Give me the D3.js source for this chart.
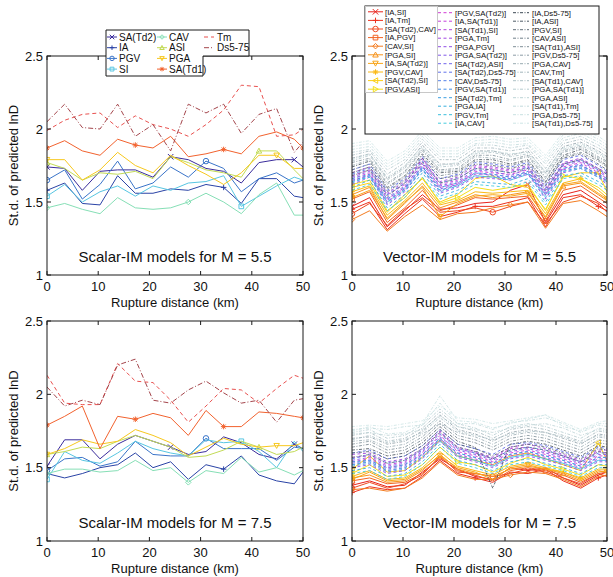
<!DOCTYPE html>
<html>
<head>
<meta charset="utf-8">
<script src="https://cdn.jsdelivr.net/npm/d3@7"></script>
<style>
  body { margin: 0; background: #fff; }
  svg { font-family: "Liberation Sans", Arial, sans-serif; }
</style>
</head>
<body>
<svg id="chart" width="613" height="577"></svg>
<script>
// distances (km) of the computed points
const distance = [0, 3.45, 6.9, 10.35, 13.8, 17.25, 20.7, 24.15, 27.6, 31.05, 34.5, 37.95, 41.4, 44.85, 48.3, 50];
const xTicks = [0, 10, 20, 30, 40, 50];
const yTicks = [1, 1.5, 2, 2.5];

// scalar IM models
const scalarNames = ['SA(Td2)', 'IA', 'PGV', 'SI', 'CAV', 'ASI', 'PGA', 'SA(Td1)', 'Tm', 'Ds5-75'];
const scalarM55 = [
  [1.74, 1.73, 1.58, 1.71, 1.72, 1.72, 1.67, 1.81, 1.79, 1.73, 1.71, 1.63, 1.77, 1.79, 1.79, 1.74],
  [1.58, 1.63, 1.49, 1.48, 1.68, 1.56, 1.56, 1.59, 1.58, 1.62, 1.60, 1.49, 1.66, 1.66, 1.54, 1.53],
  [1.65, 1.72, 1.52, 1.62, 1.78, 1.59, 1.63, 1.74, 1.67, 1.78, 1.73, 1.57, 1.66, 1.70, 1.63, 1.65],
  [1.54, 1.62, 1.50, 1.57, 1.61, 1.54, 1.61, 1.58, 1.63, 1.64, 1.68, 1.47, 1.54, 1.61, 1.67, 1.65],
  [1.46, 1.49, 1.45, 1.42, 1.53, 1.46, 1.45, 1.46, 1.50, 1.56, 1.50, 1.42, 1.55, 1.63, 1.41, 1.41],
  [1.77, 1.73, 1.65, 1.70, 1.69, 1.71, 1.66, 1.81, 1.77, 1.72, 1.70, 1.67, 1.85, 1.85, 1.72, 1.66],
  [1.79, 1.79, 1.65, 1.72, 1.84, 1.75, 1.70, 1.82, 1.75, 1.69, 1.62, 1.70, 1.82, 1.82, 1.73, 1.73],
  [1.87, 1.92, 1.85, 1.82, 1.93, 1.89, 1.87, 1.95, 1.81, 1.83, 1.86, 1.83, 1.95, 1.98, 1.93, 1.87],
  [1.99, 2.06, 2.10, 2.11, 2.01, 2.09, 2.03, 2.00, 1.95, 2.03, 2.13, 2.30, 2.29, 1.95, 1.96, 2.00],
  [2.05, 2.17, 2.01, 2.00, 2.17, 1.95, 2.03, 1.85, 2.17, 2.11, 2.17, 1.97, 2.10, 2.14, 1.84, 1.91]
];
const scalarM75 = [
  [1.51, 1.69, 1.69, 1.56, 1.66, 1.72, 1.68, 1.64, 1.59, 1.61, 1.71, 1.67, 1.59, 1.56, 1.66, 1.63],
  [1.46, 1.43, 1.46, 1.50, 1.52, 1.60, 1.50, 1.54, 1.42, 1.52, 1.49, 1.58, 1.45, 1.41, 1.39, 1.47],
  [1.48, 1.56, 1.57, 1.51, 1.54, 1.68, 1.59, 1.58, 1.58, 1.70, 1.63, 1.63, 1.63, 1.55, 1.64, 1.63],
  [1.42, 1.61, 1.55, 1.53, 1.60, 1.68, 1.63, 1.60, 1.58, 1.69, 1.67, 1.68, 1.61, 1.50, 1.68, 1.61],
  [1.46, 1.49, 1.49, 1.47, 1.48, 1.55, 1.48, 1.50, 1.40, 1.48, 1.46, 1.57, 1.47, 1.50, 1.45, 1.48],
  [1.59, 1.61, 1.64, 1.63, 1.68, 1.72, 1.68, 1.64, 1.57, 1.58, 1.62, 1.68, 1.64, 1.59, 1.61, 1.64],
  [1.59, 1.63, 1.69, 1.66, 1.68, 1.76, 1.72, 1.67, 1.58, 1.64, 1.70, 1.66, 1.64, 1.65, 1.65, 1.67],
  [1.79, 1.85, 1.92, 1.63, 1.85, 1.83, 1.87, 1.84, 1.72, 1.89, 1.78, 1.78, 1.88, 1.87, 1.85, 1.84],
  [2.13, 1.94, 1.93, 1.93, 2.21, 2.09, 2.08, 1.96, 1.81, 1.92, 2.04, 2.03, 1.94, 2.04, 2.13, 2.11],
  [2.05, 1.92, 1.96, 1.93, 2.20, 2.24, 1.96, 1.94, 2.03, 2.09, 2.01, 1.94, 1.96, 1.81, 1.96, 1.97]
];

// vector IM models (pairs)
const vectorNames = [
  '[IA,SI]', '[IA,Tm]', '[SA(Td2),CAV]', '[IA,PGV]', '[CAV,SI]', '[PGA,SI]', '[IA,SA(Td2)]', '[PGV,CAV]', '[SA(Td2),SI]', '[PGV,ASI]',
  '[PGV,SA(Td2)]', '[IA,SA(Td1)]', '[SA(Td1),SI]', '[PGA,Tm]', '[PGA,PGV]', '[PGA,SA(Td2)]', '[SA(Td2),ASI]', '[SA(Td2),Ds5-75]', '[CAV,Ds5-75]', '[PGV,SA(Td1)]', '[SA(Td2),Tm]', '[PGA,IA]', '[PGV,Tm]', '[IA,CAV]',
  '[IA,Ds5-75]', '[IA,ASI]', '[PGV,SI]', '[CAV,ASI]', '[SA(Td1),ASI]', '[PGV,Ds5-75]', '[PGA,CAV]', '[CAV,Tm]', '[SA(Td1),CAV]', '[PGA,SA(Td1)]', '[PGA,ASI]', '[SA(Td1),Tm]', '[PGA,Ds5-75]', '[SA(Td1),Ds5-75]'
];
const vectorM55 = [
  [1.47, 1.53, 1.33, 1.44, 1.55, 1.45, 1.46, 1.49, 1.50, 1.58, 1.62, 1.36, 1.55, 1.58, 1.50, 1.46],
  [1.45, 1.50, 1.31, 1.42, 1.52, 1.40, 1.43, 1.47, 1.47, 1.50, 1.53, 1.33, 1.53, 1.55, 1.47, 1.44],
  [1.42, 1.49, 1.34, 1.45, 1.53, 1.43, 1.44, 1.46, 1.43, 1.47, 1.50, 1.35, 1.50, 1.54, 1.49, 1.43],
  [1.52, 1.57, 1.36, 1.46, 1.58, 1.44, 1.48, 1.53, 1.52, 1.53, 1.54, 1.37, 1.58, 1.61, 1.53, 1.49],
  [1.38, 1.44, 1.30, 1.40, 1.48, 1.38, 1.42, 1.43, 1.46, 1.48, 1.50, 1.32, 1.49, 1.51, 1.44, 1.40],
  [1.55, 1.60, 1.38, 1.49, 1.61, 1.46, 1.50, 1.55, 1.53, 1.55, 1.57, 1.39, 1.61, 1.63, 1.55, 1.51],
  [1.53, 1.58, 1.39, 1.50, 1.60, 1.40, 1.49, 1.54, 1.55, 1.54, 1.56, 1.40, 1.62, 1.64, 1.56, 1.52],
  [1.57, 1.61, 1.41, 1.51, 1.63, 1.48, 1.51, 1.57, 1.56, 1.57, 1.58, 1.42, 1.63, 1.66, 1.58, 1.53],
  [1.60, 1.63, 1.43, 1.55, 1.66, 1.50, 1.55, 1.66, 1.68, 1.62, 1.60, 1.45, 1.67, 1.70, 1.70, 1.57],
  [1.62, 1.65, 1.44, 1.53, 1.67, 1.49, 1.53, 1.60, 1.58, 1.60, 1.62, 1.44, 1.68, 1.66, 1.60, 1.55],
  [1.66, 1.70, 1.52, 1.60, 1.77, 1.60, 1.63, 1.71, 1.70, 1.69, 1.72, 1.56, 1.74, 1.77, 1.70, 1.66],
  [1.68, 1.72, 1.55, 1.62, 1.80, 1.62, 1.65, 1.74, 1.73, 1.71, 1.74, 1.58, 1.76, 1.79, 1.72, 1.68],
  [1.64, 1.69, 1.50, 1.59, 1.75, 1.58, 1.62, 1.69, 1.69, 1.67, 1.71, 1.55, 1.72, 1.75, 1.69, 1.64],
  [1.70, 1.74, 1.56, 1.64, 1.79, 1.64, 1.67, 1.75, 1.74, 1.72, 1.75, 1.60, 1.77, 1.80, 1.73, 1.70],
  [1.62, 1.67, 1.48, 1.57, 1.72, 1.56, 1.60, 1.67, 1.66, 1.65, 1.69, 1.52, 1.70, 1.73, 1.67, 1.62],
  [1.67, 1.71, 1.53, 1.61, 1.76, 1.61, 1.64, 1.72, 1.71, 1.68, 1.73, 1.57, 1.75, 1.78, 1.71, 1.67],
  [1.65, 1.68, 1.51, 1.59, 1.74, 1.59, 1.62, 1.70, 1.68, 1.66, 1.70, 1.55, 1.73, 1.76, 1.68, 1.65],
  [1.72, 1.76, 1.58, 1.66, 1.81, 1.66, 1.69, 1.77, 1.76, 1.74, 1.77, 1.62, 1.79, 1.82, 1.75, 1.71],
  [1.69, 1.73, 1.55, 1.63, 1.78, 1.63, 1.66, 1.73, 1.72, 1.70, 1.74, 1.59, 1.76, 1.79, 1.72, 1.69],
  [1.63, 1.68, 1.49, 1.58, 1.73, 1.57, 1.61, 1.68, 1.67, 1.66, 1.70, 1.53, 1.71, 1.74, 1.68, 1.63],
  [1.66, 1.69, 1.52, 1.60, 1.74, 1.60, 1.63, 1.70, 1.69, 1.67, 1.71, 1.56, 1.73, 1.75, 1.69, 1.66],
  [1.60, 1.65, 1.46, 1.55, 1.70, 1.54, 1.58, 1.64, 1.63, 1.62, 1.66, 1.50, 1.68, 1.70, 1.64, 1.60],
  [1.64, 1.67, 1.50, 1.58, 1.72, 1.58, 1.61, 1.68, 1.67, 1.65, 1.69, 1.54, 1.71, 1.73, 1.67, 1.64],
  [1.58, 1.62, 1.44, 1.53, 1.67, 1.52, 1.56, 1.62, 1.61, 1.60, 1.64, 1.48, 1.66, 1.68, 1.62, 1.58],
  [1.74, 1.78, 1.60, 1.68, 1.83, 1.70, 1.71, 1.79, 1.79, 1.76, 1.79, 1.64, 1.82, 1.86, 1.79, 1.75],
  [1.70, 1.74, 1.57, 1.65, 1.80, 1.66, 1.68, 1.76, 1.75, 1.73, 1.76, 1.61, 1.80, 1.83, 1.76, 1.72],
  [1.68, 1.72, 1.54, 1.63, 1.77, 1.63, 1.66, 1.73, 1.72, 1.70, 1.73, 1.58, 1.76, 1.79, 1.73, 1.69],
  [1.72, 1.76, 1.59, 1.67, 1.82, 1.68, 1.70, 1.78, 1.77, 1.75, 1.78, 1.63, 1.81, 1.84, 1.78, 1.74],
  [1.77, 1.80, 1.63, 1.71, 1.86, 1.72, 1.73, 1.82, 1.82, 1.79, 1.82, 1.67, 1.85, 1.88, 1.81, 1.78],
  [1.80, 1.83, 1.66, 1.74, 1.89, 1.76, 1.76, 1.85, 1.85, 1.82, 1.85, 1.70, 1.88, 1.91, 1.85, 1.81],
  [1.75, 1.79, 1.62, 1.70, 1.85, 1.71, 1.72, 1.81, 1.80, 1.78, 1.81, 1.66, 1.84, 1.87, 1.80, 1.77],
  [1.82, 1.85, 1.69, 1.77, 1.91, 1.79, 1.79, 1.87, 1.87, 1.85, 1.87, 1.73, 1.90, 1.93, 1.87, 1.83],
  [1.78, 1.82, 1.65, 1.73, 1.87, 1.74, 1.75, 1.83, 1.84, 1.81, 1.83, 1.69, 1.86, 1.89, 1.83, 1.79],
  [1.84, 1.86, 1.72, 1.79, 1.93, 1.81, 1.81, 1.89, 1.89, 1.87, 1.89, 1.76, 1.92, 1.95, 1.89, 1.85],
  [1.79, 1.83, 1.67, 1.75, 1.88, 1.75, 1.77, 1.84, 1.85, 1.83, 1.84, 1.71, 1.87, 1.90, 1.84, 1.80],
  [1.86, 1.88, 1.74, 1.81, 1.95, 1.83, 1.83, 1.90, 1.91, 1.89, 1.90, 1.78, 1.94, 1.97, 1.91, 1.87],
  [1.88, 1.90, 1.76, 1.83, 1.97, 1.85, 1.85, 1.92, 1.93, 1.91, 1.92, 1.80, 1.96, 1.99, 1.93, 1.89],
  [1.90, 1.92, 1.78, 1.85, 1.99, 1.87, 1.87, 1.94, 1.95, 1.93, 1.94, 1.82, 1.98, 2.00, 1.95, 1.91]
];
const vectorM75 = [
  [1.38, 1.41, 1.37, 1.38, 1.47, 1.56, 1.49, 1.44, 1.42, 1.50, 1.48, 1.50, 1.43, 1.38, 1.45, 1.47],
  [1.33, 1.37, 1.35, 1.36, 1.44, 1.55, 1.46, 1.43, 1.40, 1.47, 1.46, 1.49, 1.41, 1.36, 1.43, 1.45],
  [1.36, 1.40, 1.36, 1.39, 1.45, 1.58, 1.47, 1.46, 1.44, 1.46, 1.49, 1.47, 1.43, 1.39, 1.46, 1.44],
  [1.41, 1.43, 1.39, 1.40, 1.46, 1.57, 1.48, 1.45, 1.41, 1.48, 1.50, 1.48, 1.45, 1.40, 1.46, 1.47],
  [1.35, 1.36, 1.34, 1.36, 1.43, 1.54, 1.45, 1.42, 1.42, 1.45, 1.47, 1.46, 1.42, 1.37, 1.44, 1.45],
  [1.43, 1.45, 1.40, 1.41, 1.48, 1.59, 1.49, 1.46, 1.44, 1.49, 1.51, 1.49, 1.46, 1.41, 1.47, 1.48],
  [1.42, 1.47, 1.41, 1.42, 1.49, 1.58, 1.50, 1.47, 1.42, 1.50, 1.52, 1.49, 1.47, 1.42, 1.48, 1.47],
  [1.44, 1.48, 1.42, 1.43, 1.50, 1.61, 1.51, 1.48, 1.45, 1.51, 1.53, 1.50, 1.47, 1.43, 1.49, 1.49],
  [1.49, 1.58, 1.47, 1.48, 1.57, 1.69, 1.58, 1.55, 1.52, 1.58, 1.60, 1.56, 1.52, 1.48, 1.67, 1.55],
  [1.46, 1.52, 1.44, 1.45, 1.52, 1.64, 1.54, 1.52, 1.47, 1.53, 1.57, 1.52, 1.49, 1.45, 1.52, 1.51],
  [1.54, 1.56, 1.50, 1.52, 1.60, 1.72, 1.61, 1.58, 1.54, 1.60, 1.62, 1.59, 1.56, 1.52, 1.58, 1.58],
  [1.57, 1.58, 1.52, 1.54, 1.62, 1.74, 1.63, 1.60, 1.56, 1.63, 1.64, 1.61, 1.58, 1.54, 1.61, 1.60],
  [1.52, 1.54, 1.48, 1.50, 1.58, 1.70, 1.59, 1.56, 1.52, 1.58, 1.60, 1.57, 1.54, 1.50, 1.56, 1.56],
  [1.59, 1.60, 1.54, 1.56, 1.63, 1.75, 1.64, 1.61, 1.57, 1.64, 1.66, 1.63, 1.59, 1.55, 1.62, 1.62],
  [1.50, 1.52, 1.46, 1.48, 1.56, 1.68, 1.57, 1.54, 1.50, 1.56, 1.58, 1.55, 1.52, 1.48, 1.54, 1.54],
  [1.55, 1.57, 1.51, 1.53, 1.61, 1.71, 1.62, 1.59, 1.55, 1.61, 1.63, 1.60, 1.57, 1.53, 1.59, 1.59],
  [1.53, 1.55, 1.49, 1.51, 1.59, 1.69, 1.60, 1.57, 1.53, 1.59, 1.61, 1.58, 1.55, 1.51, 1.57, 1.57],
  [1.60, 1.62, 1.56, 1.58, 1.65, 1.76, 1.66, 1.63, 1.59, 1.66, 1.67, 1.65, 1.61, 1.57, 1.64, 1.63],
  [1.56, 1.59, 1.53, 1.55, 1.62, 1.73, 1.63, 1.60, 1.56, 1.62, 1.64, 1.62, 1.58, 1.54, 1.60, 1.60],
  [1.51, 1.53, 1.47, 1.49, 1.57, 1.69, 1.58, 1.55, 1.51, 1.57, 1.59, 1.56, 1.53, 1.49, 1.55, 1.55],
  [1.54, 1.55, 1.50, 1.52, 1.59, 1.70, 1.60, 1.57, 1.53, 1.59, 1.61, 1.58, 1.55, 1.51, 1.57, 1.57],
  [1.48, 1.50, 1.44, 1.46, 1.54, 1.66, 1.55, 1.52, 1.48, 1.54, 1.56, 1.53, 1.50, 1.46, 1.52, 1.52],
  [1.52, 1.54, 1.48, 1.50, 1.57, 1.68, 1.58, 1.55, 1.51, 1.57, 1.59, 1.56, 1.53, 1.49, 1.55, 1.55],
  [1.46, 1.48, 1.42, 1.44, 1.52, 1.64, 1.53, 1.50, 1.46, 1.52, 1.54, 1.51, 1.48, 1.44, 1.50, 1.50],
  [1.62, 1.63, 1.58, 1.60, 1.67, 1.78, 1.68, 1.64, 1.36, 1.66, 1.68, 1.66, 1.62, 1.58, 1.65, 1.64],
  [1.60, 1.61, 1.56, 1.58, 1.65, 1.76, 1.66, 1.63, 1.58, 1.64, 1.66, 1.64, 1.60, 1.56, 1.63, 1.62],
  [1.57, 1.59, 1.53, 1.55, 1.63, 1.74, 1.64, 1.61, 1.56, 1.62, 1.64, 1.62, 1.58, 1.54, 1.61, 1.60],
  [1.64, 1.66, 1.60, 1.62, 1.69, 1.80, 1.70, 1.67, 1.62, 1.68, 1.70, 1.68, 1.64, 1.60, 1.67, 1.66],
  [1.66, 1.68, 1.62, 1.64, 1.71, 1.82, 1.72, 1.69, 1.64, 1.70, 1.72, 1.70, 1.66, 1.62, 1.69, 1.68],
  [1.70, 1.71, 1.66, 1.68, 1.75, 1.86, 1.76, 1.73, 1.68, 1.74, 1.76, 1.74, 1.70, 1.66, 1.73, 1.72],
  [1.68, 1.69, 1.64, 1.66, 1.73, 1.80, 1.74, 1.71, 1.66, 1.72, 1.74, 1.72, 1.68, 1.64, 1.71, 1.70],
  [1.72, 1.74, 1.68, 1.70, 1.77, 1.88, 1.78, 1.75, 1.70, 1.76, 1.78, 1.76, 1.72, 1.68, 1.75, 1.74],
  [1.69, 1.72, 1.67, 1.69, 1.74, 1.84, 1.75, 1.72, 1.69, 1.73, 1.75, 1.74, 1.71, 1.67, 1.72, 1.71],
  [1.74, 1.76, 1.70, 1.72, 1.79, 1.90, 1.80, 1.77, 1.72, 1.78, 1.80, 1.78, 1.74, 1.70, 1.77, 1.76],
  [1.73, 1.74, 1.72, 1.73, 1.76, 1.85, 1.78, 1.76, 1.74, 1.77, 1.79, 1.80, 1.77, 1.72, 1.76, 1.75],
  [1.76, 1.77, 1.76, 1.78, 1.79, 1.94, 1.80, 1.80, 1.76, 1.81, 1.82, 1.84, 1.80, 1.74, 1.79, 1.78],
  [1.75, 1.78, 1.73, 1.74, 1.80, 1.99, 1.82, 1.81, 1.77, 1.80, 1.83, 1.86, 1.78, 1.75, 1.80, 1.80],
  [1.78, 1.79, 1.78, 1.80, 1.82, 1.92, 1.84, 1.83, 1.80, 1.82, 1.84, 1.86, 1.81, 1.76, 1.81, 1.82]
];

// styles
const scalarColors = ['#3b2d9c', '#2a43a6', '#3a74c9', '#58c6e2', '#86dfb6', '#c2db55', '#f7c81e', '#f2622e', '#e9514f', '#a4454b'];
const scalarMarkers = ['x', '+', 'o', 's', 'd', '^', 'v', '*', null, null];
const scalarMarkerStep = [7, 10, 9, 11, 8, 12, 13, 5, 0, 0];
const scalarDash = [null, null, null, null, null, null, null, null, '4,3', '5,2,1,2'];

const vectorColors = [
  '#e8231c', '#ec3320', '#ef4a21', '#f26322', '#f47c20', '#f7941d', '#f9a61a', '#fbb916', '#fccf14', '#f3df1c',
  '#d13ad6', '#c43ddb', '#b341de', '#a146e2', '#914ee5', '#8058e8', '#6f63ea', '#6070ea', '#527fe8', '#458ee5', '#3c9ee1', '#37aedd', '#38bddc', '#45cbdd',
  '#3c4853', '#4e5b66', '#5f6d78', '#6f7e88', '#7e8e97', '#8c9ca5', '#98aab1', '#a3b6bc', '#adc1c6', '#b5cbcf', '#bcd3d6', '#c2dadc', '#c8e0e1', '#cde5e5'
];
const vectorMarkers = ['x', '+', 'o', 's', 'd', '^', 'v', '*', '<', '>'];
const vectorMarkerStep = [10, 7, 8, 11, 9, 12, 5, 13, 14, 6];

const svg = d3.select('#chart');
const defs = svg.append('defs');

function markerPath(shape, cx, cy, s) {
  const h = s / 2;
  switch (shape) {
    case 'x': return `M${cx - h},${cy - h}L${cx + h},${cy + h}M${cx - h},${cy + h}L${cx + h},${cy - h}`;
    case '+': return `M${cx - h},${cy}H${cx + h}M${cx},${cy - h}V${cy + h}`;
    case '*': {
      const k = h * 0.72;
      return `M${cx - h},${cy}H${cx + h}M${cx},${cy - h}V${cy + h}M${cx - k},${cy - k}L${cx + k},${cy + k}M${cx - k},${cy + k}L${cx + k},${cy - k}`;
    }
    case 'o': return `M${cx - h},${cy}A${h},${h} 0 1,0 ${cx + h},${cy}A${h},${h} 0 1,0 ${cx - h},${cy}Z`;
    case 's': return `M${cx - h * 0.85},${cy - h * 0.85}h${h * 1.7}v${h * 1.7}h${-h * 1.7}Z`;
    case 'd': return `M${cx},${cy - h}L${cx + h},${cy}L${cx},${cy + h}L${cx - h},${cy}Z`;
    case '^': return `M${cx},${cy - h}L${cx + h},${cy + h * 0.8}L${cx - h},${cy + h * 0.8}Z`;
    case 'v': return `M${cx},${cy + h}L${cx + h},${cy - h * 0.8}L${cx - h},${cy - h * 0.8}Z`;
    case '<': return `M${cx - h},${cy}L${cx + h * 0.8},${cy - h}L${cx + h * 0.8},${cy + h}Z`;
    case '>': return `M${cx + h},${cy}L${cx - h * 0.8},${cy - h}L${cx - h * 0.8},${cy + h}Z`;
  }
  return '';
}

function drawPanel(p, idx) {
  const x = d3.scaleLinear().domain([0, 50]).range([p.left, p.right]);
  const y = d3.scaleLinear().domain([1, 2.5]).range([p.bottom, p.top]);
  const g = svg.append('g');

  defs.append('clipPath').attr('id', 'clip' + idx)
    .append('rect').attr('x', p.left).attr('y', p.top)
    .attr('width', p.right - p.left).attr('height', p.bottom - p.top);

  const plot = g.append('g').attr('clip-path', `url(#clip${idx})`);
  const line = d3.line().x((d, i) => x(distance[i])).y(d => y(d));

  p.values.forEach((vals, i) => {
    plot.append('path')
      .attr('d', line(vals))
      .attr('fill', 'none')
      .attr('stroke', p.colors[i])
      .attr('stroke-width', p.width(i))
      .attr('stroke-dasharray', p.dash(i));
    const shape = p.markers[i];
    if (shape) {
      const step = p.steps[i];
      for (let k = 0; k < distance.length; k += step) {
        plot.append('path')
          .attr('d', markerPath(shape, x(distance[k]), y(vals[k]), p.msize))
          .attr('fill', 'none')
          .attr('stroke', p.colors[i])
          .attr('stroke-width', 1);
      }
    }
  });

  // box
  g.append('rect').attr('x', p.left).attr('y', p.top)
    .attr('width', p.right - p.left).attr('height', p.bottom - p.top)
    .attr('fill', 'none').attr('stroke', '#1a1a1a').attr('stroke-width', 1);

  // ticks inside, on all sides
  const tl = 4;
  xTicks.forEach(t => {
    g.append('line').attr('x1', x(t)).attr('x2', x(t)).attr('y1', p.bottom).attr('y2', p.bottom - tl).attr('stroke', '#1a1a1a');
    g.append('line').attr('x1', x(t)).attr('x2', x(t)).attr('y1', p.top).attr('y2', p.top + tl).attr('stroke', '#1a1a1a');
    g.append('text').attr('x', x(t)).attr('y', p.bottom + 16)
      .attr('text-anchor', 'middle').attr('font-size', 13).attr('fill', '#111').text(t);
  });
  yTicks.forEach(t => {
    g.append('line').attr('x1', p.left).attr('x2', p.left + tl).attr('y1', y(t)).attr('y2', y(t)).attr('stroke', '#1a1a1a');
    g.append('line').attr('x1', p.right).attr('x2', p.right - tl).attr('y1', y(t)).attr('y2', y(t)).attr('stroke', '#1a1a1a');
    g.append('text').attr('x', p.left - 4).attr('y', y(t) + 4.5)
      .attr('text-anchor', 'end').attr('font-size', 13).attr('fill', '#111').text(t);
  });

  g.append('text').attr('x', (p.left + p.right) / 2).attr('y', p.bottom + 32)
    .attr('text-anchor', 'middle').attr('font-size', 13).attr('fill', '#111').text('Rupture distance (km)');
  g.append('text')
    .attr('transform', `translate(${p.left - 29},${(p.top + p.bottom) / 2}) rotate(-90)`)
    .attr('text-anchor', 'middle').attr('font-size', 13).attr('fill', '#111').text('St.d. of predicted lnD');
  g.append('text').attr('x', (p.left + p.right) / 2).attr('y', p.bottom - 13)
    .attr('text-anchor', 'middle').attr('font-size', 15).attr('fill', '#111').text(p.title);
}

const vectorDash = i => i < 10 ? null : (i < 24 ? '3,2.5' : '3,1.5,1,1.5');
const vectorWidth = i => i < 10 ? 1 : (i < 24 ? 0.9 : 0.8);

const panels = [
  { left: 47, right: 303, top: 56, bottom: 275, values: scalarM55, colors: scalarColors, markers: scalarMarkers, steps: scalarMarkerStep, dash: i => scalarDash[i], width: () => 1, msize: 5.5, title: 'Scalar-IM models for M = 5.5' },
  { left: 352, right: 607, top: 56, bottom: 275, values: vectorM55, colors: vectorColors, markers: vectorMarkers, steps: vectorMarkerStep, dash: vectorDash, width: vectorWidth, msize: 5.5, title: 'Vector-IM models for M = 5.5' },
  { left: 47, right: 303, top: 321, bottom: 541, values: scalarM75, colors: scalarColors, markers: scalarMarkers, steps: scalarMarkerStep, dash: i => scalarDash[i], width: () => 1, msize: 5.5, title: 'Scalar-IM models for M = 7.5' },
  { left: 352, right: 607, top: 321, bottom: 541, values: vectorM75, colors: vectorColors, markers: vectorMarkers, steps: vectorMarkerStep, dash: vectorDash, width: vectorWidth, msize: 5.5, title: 'Vector-IM models for M = 7.5' }
];
panels.forEach(drawPanel);

// legend of scalar models
const lg1 = svg.append('g');
lg1.append('path')
  .attr('d', 'M106,30H249V56H203V76H106Z')
  .attr('fill', '#fff').attr('stroke', '#1a1a1a').attr('stroke-width', 1);
const colX1 = [[107, 117, 119], [157, 167, 169], [204, 214, 217]];
scalarNames.forEach((name, i) => {
  const c = i < 8 ? Math.floor(i / 4) : 2;
  const r = i < 8 ? i % 4 : i - 8;
  const yy = 37 + r * 10.7;
  const [a, b, tx] = colX1[c];
  lg1.append('line').attr('x1', a).attr('x2', b).attr('y1', yy).attr('y2', yy)
    .attr('stroke', scalarColors[i]).attr('stroke-width', 1)
    .attr('stroke-dasharray', scalarDash[i]);
  if (scalarMarkers[i]) {
    lg1.append('path').attr('d', markerPath(scalarMarkers[i], (a + b) / 2, yy, 4.5))
      .attr('fill', 'none').attr('stroke', scalarColors[i]);
  }
  lg1.append('text').attr('x', tx).attr('y', yy + 3.6).attr('font-size', 10).attr('fill', '#111').text(name);
});

// legend of vector models
const lg2 = svg.append('g');
lg2.append('rect').attr('x', 365).attr('y', 6).attr('width', 234).attr('height', 128)
  .attr('fill', '#fff').attr('stroke', '#1a1a1a').attr('stroke-width', 1);
lg2.append('rect').attr('x', 365.5).attr('y', 6.5).attr('width', 72).attr('height', 86)
  .attr('fill', 'none').attr('stroke', '#c8c8c8').attr('stroke-width', 1);
const colX2 = [[368, 383, 385], [438, 452, 455], [513, 529, 532]];
vectorNames.forEach((name, i) => {
  const c = i < 10 ? 0 : (i < 24 ? 1 : 2);
  const r = i < 10 ? i : (i < 24 ? i - 10 : i - 24);
  const yy = c === 0 ? 11.8 + r * 8.6 : 12.7 + r * 8.5;
  const [a, b, tx] = colX2[c];
  lg2.append('line').attr('x1', a).attr('x2', b).attr('y1', yy).attr('y2', yy)
    .attr('stroke', vectorColors[i]).attr('stroke-width', 1)
    .attr('stroke-dasharray', vectorDash(i));
  if (c === 0) {
    lg2.append('path').attr('d', markerPath(vectorMarkers[i], (a + b) / 2, yy, 5.5))
      .attr('fill', 'none').attr('stroke', vectorColors[i]);
  }
  lg2.append('text').attr('x', tx).attr('y', yy + 2.8).attr('font-size', 7.8).attr('fill', '#111').text(name);
});
</script>
</body>
</html>
